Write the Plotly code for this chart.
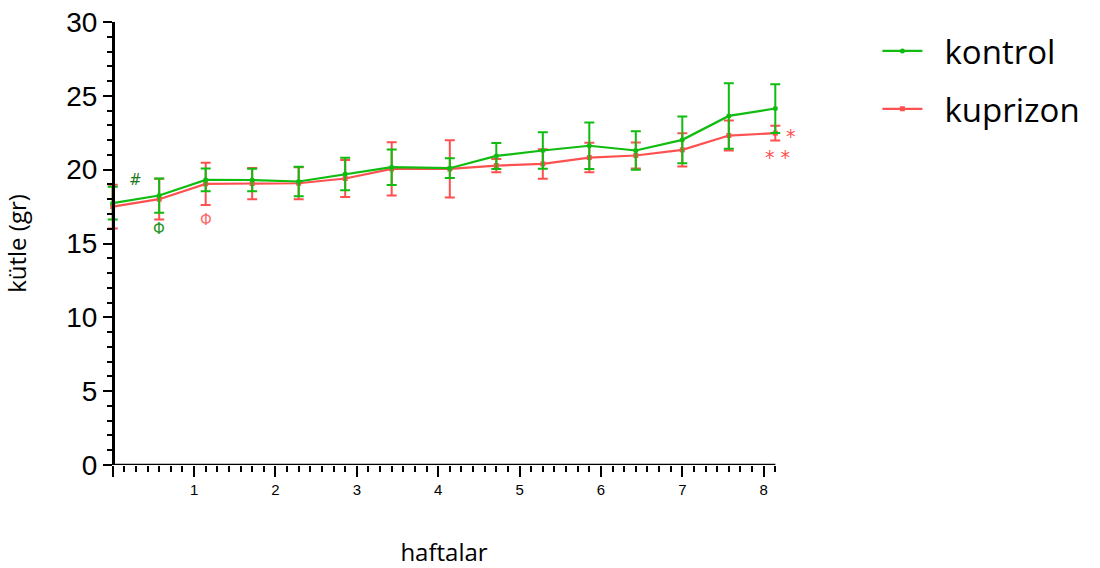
import plotly.graph_objects as go

# --- data ---
days = [0, 4, 8, 12, 16, 20, 24, 29, 33, 37, 41, 45, 49, 53, 57]
weeks = [d / 7 for d in days]
kontrol_mean = [17.73, 18.25, 19.31, 19.30, 19.20, 19.70, 20.17, 20.10, 20.93, 21.30, 21.62, 21.30, 22.02, 23.64, 24.14]
kontrol_err = [1.11, 1.16, 0.77, 0.76, 1.00, 1.10, 1.20, 0.67, 0.88, 1.24, 1.57, 1.30, 1.58, 2.22, 1.65]
kuprizon_mean = [17.50, 18.00, 19.04, 19.06, 19.08, 19.40, 20.05, 20.05, 20.28, 20.39, 20.82, 20.96, 21.34, 22.31, 22.47]
kuprizon_err = [1.48, 1.38, 1.43, 1.06, 1.08, 1.25, 1.80, 1.94, 0.45, 1.00, 1.00, 0.88, 1.13, 1.02, 0.50]
x_tick_vals = [0, 1, 2, 3, 4, 5, 6, 7, 8]
x_tick_text = ["", "1", "2", "3", "4", "5", "6", "7", "8"]
x_max = 57 / 7

GREEN = "rgb(15,188,15)"
RED = "rgb(255,80,80)"

# small padding so the error-bar caps at both ends are not clipped
pad = 0.07
r0, r1 = -pad, x_max + pad
px_per_week = 81.3
plot_left = 113 - pad * px_per_week
plot_right = 113 + (x_max + pad) * px_per_week
plot_w = plot_right - plot_left


def xpaper(v):
    return (v - r0) / (r1 - r0)


fig = go.Figure()
fig.add_trace(go.Scatter(
    x=weeks, y=kuprizon_mean, name="\u00a0\u00a0kuprizon", mode="lines+markers",
    line=dict(color=RED, width=2.2), marker=dict(color=RED, size=5, symbol="square"),
    error_y=dict(type="data", array=kuprizon_err, color=RED, thickness=2, width=5),
    cliponaxis=False, legendgroup="b", legendrank=2,
))
fig.add_trace(go.Scatter(
    x=weeks, y=kontrol_mean, name="\u00a0\u00a0kontrol", mode="lines+markers",
    line=dict(color=GREEN, width=2.2), marker=dict(color=GREEN, size=5),
    error_y=dict(type="data", array=kontrol_err, color=GREEN, thickness=2, width=5),
    cliponaxis=False, legendgroup="a", legendrank=1,
))

annotations = [
    dict(x=xpaper(0.283), y=19.3, text="<i>#</i>", font=dict(color="rgb(30,120,30)", size=15, family="DejaVu Sans")),
    dict(x=xpaper(weeks[1]), y=16.0, text="Φ", font=dict(color="rgb(40,150,40)", size=15, family="DejaVu Sans")),
    dict(x=xpaper(weeks[2]), y=16.6, text="Φ", font=dict(color="rgb(255,110,110)", size=15, family="DejaVu Sans")),
    dict(x=xpaper(8.34), y=22.3, text="*", font=dict(color=RED, size=19, family="DejaVu Sans")),
    dict(x=xpaper(8.17), y=20.85, text="* *", font=dict(color=RED, size=19, family="DejaVu Sans")),
]
for a in annotations:
    a.update(xref="paper", yref="y", showarrow=False, xanchor="center", yanchor="middle")

legend_left_px = 877
fig.update_layout(
    width=1100, height=568,
    margin=dict(l=plot_left, r=1100 - plot_right, t=22, b=103, autoexpand=False),
    plot_bgcolor="white", paper_bgcolor="white",
    annotations=annotations,
    shapes=[dict(type="line", xref="x", yref="y", x0=0, x1=x_max, y0=0, y1=0,
                 line=dict(color="black", width=2.5), layer="above")],
    showlegend=True,
    legend=dict(x=(legend_left_px - plot_left) / plot_w, y=1.0 - 1 / 443, xanchor="left", yanchor="top",
                font=dict(family="Open Sans", size=33, color="black"),
                traceorder="grouped", tracegroupgap=12, itemwidth=40,
                bgcolor="rgba(0,0,0,0)"),
    xaxis=dict(
        range=[r0, r1], showgrid=False, zeroline=False, automargin=False,
        showline=False,
        ticks="outside", ticklen=11, tickwidth=2, tickcolor="black",
        tickvals=x_tick_vals, ticktext=x_tick_text,
        tickfont=dict(family="Liberation Sans", size=15, color="black"),
        minor=dict(tickvals=[d / 7 for d in range(0, 58) if d % 7], ticks="outside", ticklen=6, tickwidth=2, tickcolor="black"),
        title=dict(text="haftalar", font=dict(family="Open Sans", size=24, color="black"), standoff=48),
    ),
    yaxis=dict(
        range=[0, 30], showgrid=False, zeroline=False, automargin=False,
        anchor="free", position=xpaper(0),
        showline=True, linecolor="black", linewidth=2.5,
        ticks="outside", ticklen=9, tickwidth=2, tickcolor="black",
        tick0=0, dtick=5,
        tickfont=dict(family="Liberation Sans", size=28, color="black"),
        minor=dict(dtick=1, ticks="outside", ticklen=5, tickwidth=2, tickcolor="black"),
        title=dict(text="kütle (gr)", font=dict(family="Open Sans", size=24, color="black"), standoff=33),
    ),
)

fig.write_html("out.html")
